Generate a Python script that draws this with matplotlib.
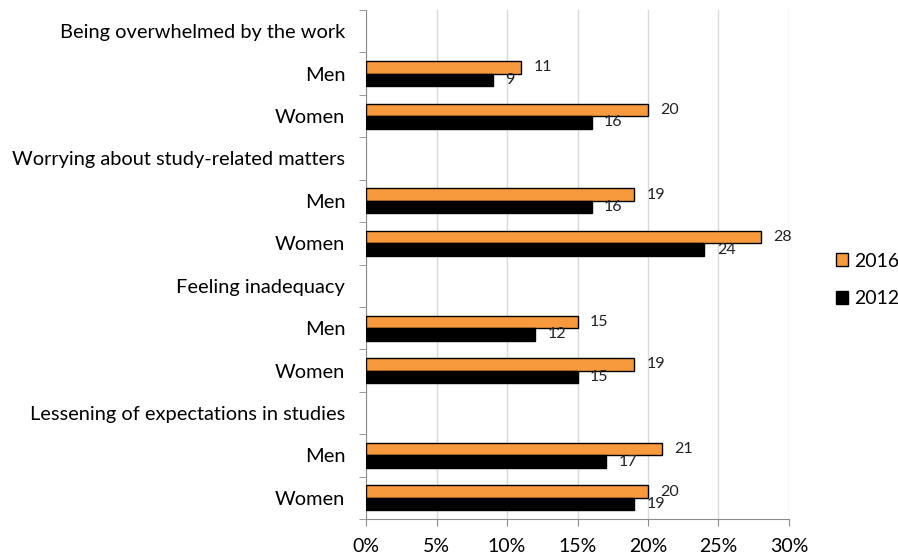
import matplotlib.pyplot as plt
import matplotlib.patches as mpatches
from matplotlib.ticker import FixedLocator, FuncFormatter
import numpy as np

# ── Data ─────────────────────────────────────────────────────────────────────
row_labels = [
    "Being overwhelmed by the work", "Men", "Women",
    "Worrying about study-related matters", "Men", "Women",
    "Feeling inadequacy", "Men", "Women",
    "Lessening of expectations in studies", "Men", "Women",
]
values_2016 = [None, 11, 20, None, 19, 28, None, 15, 19, None, 21, 20]
values_2012 = [None, 9, 16, None, 16, 24, None, 12, 15, None, 17, 19]
x_ticks = [0, 5, 10, 15, 20, 25, 30]

# ── Style ────────────────────────────────────────────────────────────────────
ORANGE = "#f79a3e"
BLACK = "#000000"
GRID = "#d9d9d9"
AXIS = "#8c8c8c"
FONT = "Lato"

plt.rcParams["font.family"] = [FONT, "DejaVu Sans"]

fig = plt.figure(figsize=(8.98, 5.56), dpi=100)
ax = fig.add_axes([366 / 898, 1 - 519 / 556, (789 - 366) / 898, (519 - 10) / 556])

y = np.arange(len(row_labels))
bar_h = 0.295

for i in y:
    v16, v12 = values_2016[i], values_2012[i]
    if v16 is None:
        continue
    ax.barh(i - bar_h / 2, v16, height=bar_h, color=ORANGE,
            edgecolor=BLACK, linewidth=1.0, zorder=3)
    ax.barh(i + bar_h / 2, v12, height=bar_h, color=BLACK,
            edgecolor=BLACK, linewidth=1.0, zorder=3)
    ax.annotate(f"{v16}", xy=(v16, i - bar_h / 2), xytext=(9, 0),
                textcoords="offset points", ha="left", va="center",
                fontsize=11.5, color="#222222")
    ax.annotate(f"{v12}", xy=(v12, i + bar_h / 2), xytext=(9, 0),
                textcoords="offset points", ha="left", va="center",
                fontsize=11.5, color="#222222")

ax.set_xlim(0, 30)
ax.set_ylim(len(row_labels) - 0.5, -0.5)

ax.set_xticks(x_ticks)
ax.xaxis.set_major_formatter(FuncFormatter(lambda v, _: f"{v:.0f}%"))
ax.tick_params(axis="x", length=5, color=AXIS, labelsize=14, pad=9)
ax.grid(axis="x", color=GRID, linewidth=1.0, zorder=0)

ax.set_yticks(y)
ax.set_yticklabels(row_labels)
ax.tick_params(axis="y", which="major", length=0, labelsize=14.4, pad=15)
ax.yaxis.set_minor_locator(FixedLocator(np.arange(-0.5, len(row_labels), 1.0)))
ax.tick_params(axis="y", which="minor", length=5, color=AXIS)

for side in ["top", "right"]:
    ax.spines[side].set_visible(False)
for side in ["left", "bottom"]:
    ax.spines[side].set_color(AXIS)

handles = [
    mpatches.Patch(facecolor=ORANGE, edgecolor=BLACK, label="2016"),
    mpatches.Patch(facecolor=BLACK, edgecolor=BLACK, label="2012"),
]
fig.legend(handles=handles, loc="center left", bbox_to_anchor=(828 / 898, 1 - 280 / 556),
           frameon=False, fontsize=14, handlelength=0.65, handleheight=0.65,
           handletextpad=0.3, labelspacing=1.05, borderaxespad=0)

fig.savefig("out.png", dpi=100)
